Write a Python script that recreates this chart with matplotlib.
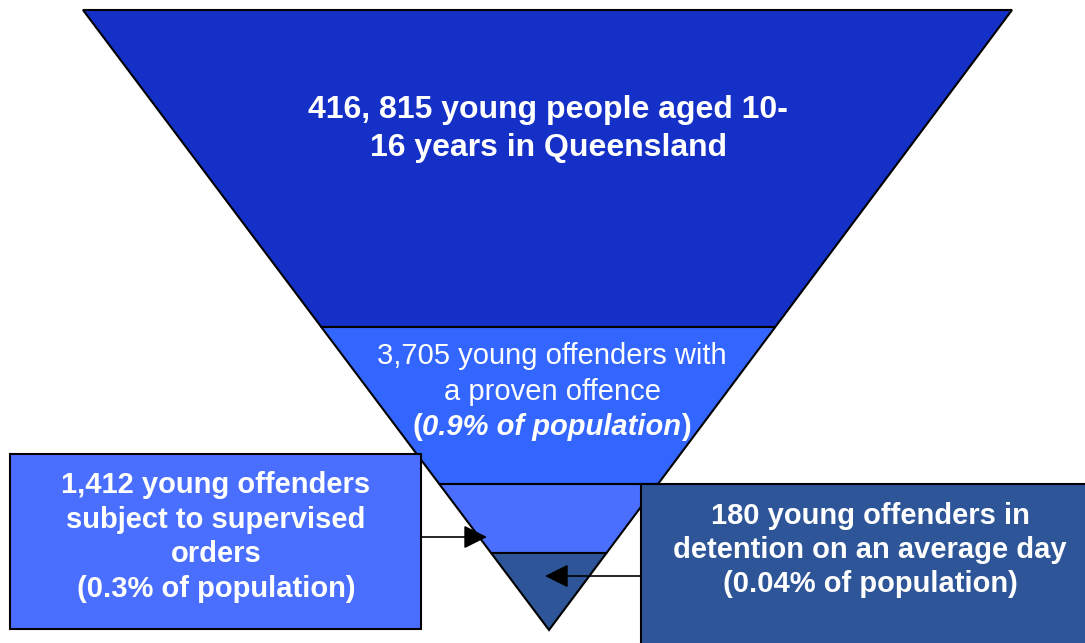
import matplotlib
matplotlib.use("Agg")
import matplotlib.pyplot as plt
from matplotlib.patches import Polygon, Rectangle

FONT = ['Liberation Sans', 'DejaVu Sans']
plt.rcParams['font.family'] = FONT

# data: funnel levels (counts and labels)
counts = [416815, 3705, 1412, 180]
pct_labels = ['', '0.9% of population', '0.3% of population', '0.04% of population']
top_label = '416, 815 young people aged 10-\n16 years in Queensland'
second_label = '3,705 young offenders with\na proven offence'
left_label = '1,412 young offenders\nsubject to supervised\norders\n(0.3% of population)'
right_label = '180 young offenders in\ndetention on an average day\n(0.04% of population)'

# layout (pixels, y downwards)
W, H = 1085, 643
tri_left, tri_right, tri_top = 83, 1012, 10
apex_x, apex_y = 549, 630
cuts = [tri_top, 327, 484, 553, apex_y]
seg_colors = ['#1530C6', '#3366FF', '#4A6FFF', '#2D5597']

fig = plt.figure(figsize=(W / 100, H / 100), dpi=100)
ax = fig.add_axes([0, 0, 1, 1])
ax.set_xlim(0, W)
ax.set_ylim(H, 0)
ax.axis('off')


def edge_x(y, side):
    t = (y - tri_top) / (apex_y - tri_top)
    x0 = tri_left if side == 'l' else tri_right
    return x0 + (apex_x - x0) * t


for i in range(len(counts)):
    y0, y1 = cuts[i], cuts[i + 1]
    pts = [(edge_x(y0, 'l'), y0), (edge_x(y0, 'r'), y0),
           (edge_x(y1, 'r'), y1), (edge_x(y1, 'l'), y1)]
    ax.add_patch(Polygon(pts, closed=True, facecolor=seg_colors[i],
                         edgecolor='black', lw=1.5, zorder=1))

# boxes
ax.add_patch(Rectangle((10, 454), 411, 175, facecolor=seg_colors[2],
                       edgecolor='black', lw=1.5, zorder=3))
ax.add_patch(Rectangle((641, 484), 460, 170, facecolor=seg_colors[3],
                       edgecolor='black', lw=1.5, zorder=3))

# arrows
ax.annotate('', xy=(487, 537), xytext=(421, 537),
            arrowprops=dict(arrowstyle='-|>,head_length=0.6,head_width=0.3',
                            color='black', lw=1.2,
                            mutation_scale=24, shrinkA=0, shrinkB=0), zorder=4)
ax.annotate('', xy=(545, 576), xytext=(641, 576),
            arrowprops=dict(arrowstyle='-|>,head_length=0.6,head_width=0.3',
                            color='black', lw=1.2,
                            mutation_scale=24, shrinkA=0, shrinkB=0), zorder=4)

ax.text(548, 129, top_label, ha='center', va='center', color='white',
        fontsize=23, fontweight='bold', linespacing=1.32, family=FONT, zorder=5)
ax.text(552, 374, second_label, ha='center', va='center', color='white',
        fontsize=21, linespacing=1.35, family=FONT, zorder=5)

# third line of second segment: bold parentheses, bold italic middle
fig.canvas.draw()
r = fig.canvas.get_renderer()
parts = [('(', 'normal'), (pct_labels[1], 'italic'), (')', 'normal')]
objs = []
for s, st in parts:
    t = ax.text(0, 427, s, ha='left', va='center', color='white', fontsize=21,
                fontweight='bold', fontstyle=st, family=FONT, zorder=5)
    objs.append(t)
widths = [t.get_window_extent(r).width for t in objs]
x = 552 - sum(widths) / 2
for t, w in zip(objs, widths):
    t.set_x(x)
    x += w

ax.text(216, 537, left_label, ha='center', va='center', color='white',
        fontsize=21, fontweight='bold', linespacing=1.29, family=FONT, zorder=5)
ax.text(870, 550, right_label, ha='center', va='center', color='white',
        fontsize=21, fontweight='bold', linespacing=1.26, family=FONT, zorder=5)

fig.savefig('out.png', dpi=100)
